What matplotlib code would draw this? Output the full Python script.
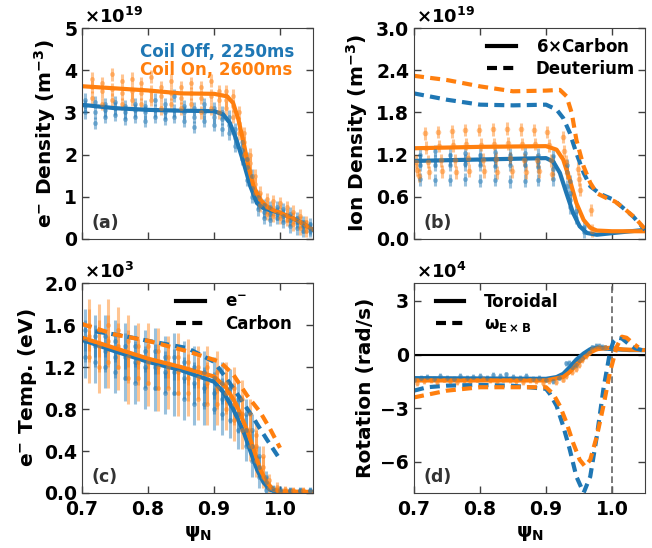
import matplotlib
matplotlib.use('Agg')
import matplotlib.pyplot as plt
from matplotlib.lines import Line2D

plt.rcParams['font.family'] = ['DejaVu Sans']
plt.rcParams['font.weight'] = 'bold'
plt.rcParams['axes.labelweight'] = 'bold'
plt.rcParams['mathtext.default'] = 'bf'
plt.rcParams['axes.edgecolor'] = '0.25'
plt.rcParams['xtick.color'] = '0.25'
plt.rcParams['ytick.color'] = '0.25'
plt.rcParams['xtick.labelcolor'] = 'black'
plt.rcParams['ytick.labelcolor'] = 'black'

BLUE = '#1f77b4'
ORANGE = '#ff7f0e'

# ---------------- (a) electron density, units of 1e19 m^-3 ----------------
a_off_x = [0.705, 0.72, 0.735, 0.75, 0.765, 0.78, 0.795, 0.81, 0.825, 0.84, 0.855, 0.87,
           0.885, 0.9, 0.912, 0.922, 0.932, 0.942, 0.95, 0.958, 0.966, 0.975, 0.985,
           0.995, 1.005, 1.015, 1.025, 1.035, 1.045]
a_off_y = [[3.0, 3.15, 3.3], [2.75, 3.0, 3.25], [2.9, 3.05, 3.2], [2.95, 3.1, 3.25],
           [2.85, 3.0, 3.15], [2.9, 3.05, 3.2], [2.8, 3.0, 3.15], [2.9, 3.05, 3.3],
           [2.85, 3.0, 3.2], [2.9, 3.05, 3.4], [2.8, 3.0, 3.15], [2.65, 2.9, 3.1],
           [2.8, 3.0, 3.2], [2.7, 2.9, 3.1], [2.6, 2.85, 3.0], [2.5, 2.7, 2.9],
           [2.2, 2.4, 2.6], [1.9, 2.1, 2.3], [1.4, 1.7, 1.9], [1.0, 1.2, 1.5],
           [0.7, 0.85, 1.0], [0.5, 0.65, 0.8], [0.45, 0.6, 0.75], [0.5, 0.6, 0.75],
           [0.4, 0.55, 0.7], [0.3, 0.45, 0.6], [0.25, 0.4, 0.5], [0.2, 0.3, 0.4],
           [0.2, 0.25, 0.35]]
a_on_x = [0.715, 0.73, 0.745, 0.76, 0.775, 0.79, 0.805, 0.82, 0.835, 0.85, 0.865, 0.88,
          0.895, 0.908, 0.918, 0.928, 0.938, 0.946, 0.954, 0.962, 0.97, 0.98, 0.99,
          1.0, 1.01, 1.02, 1.03, 1.04]
a_on_y = [[3.35, 3.6, 3.8], [3.2, 3.5, 3.7], [3.3, 3.55, 3.9], [3.2, 3.45, 3.75],
          [3.3, 3.5, 3.8], [3.2, 3.45, 3.7], [3.3, 3.5, 3.85], [3.1, 3.4, 3.6],
          [3.2, 3.45, 3.75], [3.1, 3.35, 3.6], [3.2, 3.45, 3.7], [3.0, 3.35, 3.6],
          [3.1, 3.4, 3.75], [3.0, 3.3, 3.5], [3.1, 3.3, 3.5], [2.9, 3.15, 3.4],
          [2.5, 2.75, 3.0], [2.0, 2.3, 2.5], [1.6, 1.8, 2.0], [1.1, 1.3, 1.5],
          [0.8, 0.95, 1.1], [0.6, 0.75, 0.95], [0.55, 0.7, 0.9], [0.5, 0.65, 0.85],
          [0.45, 0.55, 0.75], [0.35, 0.5, 0.65], [0.25, 0.4, 0.55], [0.2, 0.3, 0.4]]
a_err = 0.15

a_fit_off_x = [0.7, 0.75, 0.8, 0.85, 0.9, 0.914, 0.924, 0.934, 0.945, 0.955, 0.965,
               0.975, 0.985, 1.0, 1.015, 1.031, 1.05]
a_fit_off_y = [3.18, 3.1, 3.06, 3.04, 3.03, 2.95, 2.75, 2.35, 1.8, 1.25, 0.85, 0.73,
               0.68, 0.62, 0.52, 0.4, 0.22]
a_fit_on_x = [0.7, 0.75, 0.8, 0.85, 0.9, 0.92, 0.929, 0.937, 0.945, 0.952, 0.96, 0.97,
              0.98, 0.99, 1.0, 1.015, 1.031, 1.05]
a_fit_on_y = [3.62, 3.57, 3.52, 3.45, 3.44, 3.38, 3.22, 2.83, 2.27, 1.72, 1.25, 0.93,
              0.77, 0.68, 0.62, 0.52, 0.4, 0.22]

# ---------------- (b) ion density, units of 1e19 m^-3 ----------------
b_off_x = [0.709, 0.732, 0.755, 0.777, 0.8, 0.823, 0.845, 0.868, 0.888, 0.911, 0.932,
           0.936, 0.945, 0.957]
b_off_y = [[0.85, 1.05, 1.12, 1.2], [0.84, 1.05, 1.12, 1.25], [0.84, 1.05, 1.13, 1.2],
           [0.85, 1.06, 1.12, 1.22], [0.83, 1.05, 1.13, 1.2], [0.84, 1.04, 1.12, 1.24],
           [0.82, 1.05, 1.14, 1.2], [0.83, 1.05, 1.12, 1.22], [0.84, 1.03, 1.1, 1.2],
           [0.85, 1.0, 1.1, 1.18], [0.75, 0.95, 1.05], [0.45, 0.55, 0.65, 0.82],
           [0.3, 0.4], [0.1, 0.17]]
b_on_x = [[0.703, 0.705, 0.707], [0.716, 0.718, 0.721, 0.723], [0.736, 0.738, 0.741, 0.743],
          [0.757, 0.759, 0.762, 0.764], [0.777, 0.779, 0.782, 0.784], [0.799, 0.801, 0.804, 0.806],
          [0.819, 0.821, 0.824, 0.826], [0.841, 0.843, 0.846, 0.848], [0.862, 0.864, 0.867, 0.869],
          [0.882, 0.884, 0.887, 0.889], [0.902, 0.904, 0.907, 0.909], [0.925, 0.927, 0.930, 0.932],
          [0.948, 0.950, 0.952], [0.968, 0.970]]
b_on_y = [[1.1, 0.98, 0.9], [1.5, 1.3, 1.1, 0.95], [1.52, 1.32, 1.12, 0.96],
          [1.53, 1.33, 1.12, 0.95], [1.55, 1.35, 1.15, 0.97], [1.55, 1.34, 1.13, 0.96],
          [1.56, 1.35, 1.14, 0.95], [1.57, 1.36, 1.15, 0.96], [1.56, 1.35, 1.13, 0.95],
          [1.55, 1.35, 1.12, 0.96], [1.52, 1.33, 1.12, 0.93], [1.45, 1.25, 1.1, 0.94],
          [1.0, 0.85, 0.7], [0.41, 0.12]]
b_err = 0.09

b_c_off_x = [0.7, 0.8, 0.9, 0.911, 0.921, 0.931, 0.941, 0.951, 0.962, 0.977, 1.002, 1.05]
b_c_off_y = [1.11, 1.13, 1.15, 1.1, 0.94, 0.65, 0.37, 0.18, 0.085, 0.06, 0.085, 0.13]
b_c_on_x = [0.7, 0.8, 0.9, 0.916, 0.926, 0.936, 0.946, 0.957, 0.967, 0.977, 1.0, 1.05]
b_c_on_y = [1.29, 1.31, 1.32, 1.27, 1.13, 0.84, 0.51, 0.27, 0.16, 0.12, 0.11, 0.11]
b_d_off_x = [0.7, 0.75, 0.8, 0.85, 0.9, 0.916, 0.926, 0.936, 0.946, 0.957, 0.967, 0.982,
             1.002, 1.017, 1.032, 1.05]
b_d_off_y = [2.07, 1.98, 1.91, 1.9, 1.91, 1.84, 1.72, 1.51, 1.22, 0.94, 0.75, 0.64,
             0.56, 0.44, 0.32, 0.13]
b_d_on_x = [0.7, 0.75, 0.8, 0.85, 0.9, 0.921, 0.931, 0.939, 0.946, 0.957, 0.967, 0.977,
            0.992, 1.005, 1.02, 1.035, 1.05]
b_d_on_y = [2.32, 2.26, 2.17, 2.1, 2.11, 2.12, 2.03, 1.79, 1.41, 1.03, 0.8, 0.65,
            0.58, 0.53, 0.42, 0.3, 0.14]

# ---------------- (c) temperature, units of 1e3 eV ----------------
c_off_x = [0.705, 0.72, 0.735, 0.75, 0.765, 0.78, 0.795, 0.81, 0.825, 0.84, 0.855, 0.87,
           0.885, 0.9, 0.912, 0.924, 0.936, 0.948, 0.958, 0.968, 0.978, 0.99, 1.0,
           1.015, 1.03, 1.045]
c_off_y = [[1.3, 1.45, 1.55], [1.25, 1.4, 1.5], [1.2, 1.35, 1.5], [1.15, 1.3, 1.45],
           [1.1, 1.3, 1.4], [1.05, 1.25, 1.4], [1.0, 1.2, 1.35], [1.0, 1.2, 1.35],
           [0.95, 1.15, 1.3], [0.95, 1.15, 1.3], [0.9, 1.1, 1.25], [0.85, 1.05, 1.2],
           [0.85, 1.0, 1.15], [0.8, 0.95, 1.1], [0.75, 0.9, 1.05], [0.7, 0.85, 1.0],
           [0.6, 0.75, 0.9], [0.45, 0.6, 0.75], [0.3, 0.45, 0.6], [0.15, 0.25, 0.35],
           [0.03, 0.1, 0.15], [0.02, 0.05], [0.02, 0.04], [0.02, 0.03], [0.02, 0.03],
           [0.02, 0.03]]
c_off_err = [0.2, 0.2, 0.2, 0.2, 0.22, 0.2, 0.2, 0.22, 0.2, 0.22, 0.2, 0.2, 0.2, 0.2,
             0.2, 0.18, 0.18, 0.15, 0.15, 0.1, 0.06, 0.03, 0.03, 0.03, 0.03, 0.03]
c_on_x = [0.71, 0.725, 0.74, 0.755, 0.77, 0.785, 0.8, 0.815, 0.83, 0.845, 0.86, 0.875,
          0.89, 0.905, 0.918, 0.93, 0.942, 0.954, 0.964, 0.974, 0.984, 0.995, 1.008,
          1.02, 1.035]
c_on_y = [[1.3, 1.5, 1.6], [1.2, 1.4, 1.55], [1.25, 1.45, 1.6], [1.2, 1.4, 1.55],
          [1.1, 1.3, 1.45], [1.1, 1.25, 1.4], [1.05, 1.25, 1.4], [1.0, 1.2, 1.35],
          [1.0, 1.2, 1.3], [0.95, 1.15, 1.3], [0.95, 1.1, 1.25], [0.9, 1.1, 1.2],
          [0.85, 1.05, 1.2], [0.85, 1.0, 1.15], [0.8, 0.95, 1.05], [0.7, 0.85, 1.0],
          [0.6, 0.75, 0.9], [0.45, 0.6, 0.75], [0.3, 0.45, 0.55], [0.15, 0.25, 0.35],
          [0.05, 0.12], [0.03, 0.06], [0.02, 0.04], [0.02, 0.03], [0.02, 0.03]]
c_on_err = [0.25, 0.25, 0.25, 0.22, 0.25, 0.22, 0.22, 0.22, 0.2, 0.22, 0.22, 0.2, 0.2,
            0.2, 0.2, 0.2, 0.18, 0.15, 0.15, 0.1, 0.06, 0.04, 0.03, 0.03, 0.03]

c_e_off_x = [0.7, 0.75, 0.8, 0.85, 0.9, 0.914, 0.929, 0.945, 0.955, 0.965, 0.975, 0.985,
             1.0, 1.05]
c_e_off_y = [1.46, 1.35, 1.25, 1.17, 1.06, 0.96, 0.8, 0.58, 0.4, 0.225, 0.1, 0.03, 0.01, 0.005]
c_e_on_x = [0.7, 0.75, 0.8, 0.85, 0.9, 0.919, 0.934, 0.95, 0.96, 0.97, 0.98, 0.99,
            1.0, 1.05]
c_e_on_y = [1.48, 1.38, 1.28, 1.2, 1.11, 1.0, 0.84, 0.6, 0.42, 0.225, 0.1, 0.03, 0.015, 0.01]
c_c_off_x = [0.72, 0.76, 0.8, 0.86, 0.9, 0.919, 0.94, 0.96, 0.98, 1.0]
c_c_off_y = [1.54, 1.5, 1.45, 1.38, 1.25, 1.09, 0.9, 0.71, 0.51, 0.32]
c_c_on_x = [0.7, 0.75, 0.8, 0.86, 0.909, 0.929, 0.95, 0.97, 0.985, 1.0]
c_c_on_y = [1.61, 1.51, 1.45, 1.35, 1.25, 1.13, 0.93, 0.77, 0.61, 0.43]

# ---------------- (d) rotation, units of 1e4 rad/s ----------------
d_off_x = [0.70, 0.71, 0.72, 0.73, 0.74, 0.75, 0.76, 0.77, 0.78, 0.79, 0.80, 0.81, 0.82,
           0.83, 0.84, 0.85, 0.86, 0.87, 0.88, 0.89, 0.90, 0.91, 0.92, 0.93, 0.935, 0.94,
           0.945, 0.95, 0.955, 0.96, 0.965, 0.97, 0.975, 0.98, 0.985, 0.99]
d_off_y = [-1.4, -1.3, -1.25, -1.35, -1.2, -1.3, -1.35, -1.2, -1.3, -1.25, -1.2, -1.3,
           -1.15, -1.2, -1.1, -1.25, -1.3, -1.2, -1.35, -1.3, -1.4, -1.5, -1.3, -0.5,
           -0.45, -0.7, -0.6, -0.3, -0.2, 0.1, 0.2, 0.4, 0.5, 0.5, 0.45, 0.4]
d_on_x = [0.705, 0.715, 0.725, 0.735, 0.745, 0.755, 0.765, 0.775, 0.785, 0.795, 0.805,
          0.815, 0.825, 0.835, 0.845, 0.855, 0.865, 0.875, 0.885, 0.895, 0.905, 0.915,
          0.925, 0.93, 0.94, 0.945, 0.95, 0.955, 0.96, 0.965, 0.97, 0.975, 0.98, 0.99]
d_on_y = [-1.6, -1.5, -1.45, -1.55, -1.4, -1.5, -1.55, -1.45, -1.5, -1.4, -1.35, -1.45,
          -1.5, -1.4, -1.45, -1.5, -1.55, -1.45, -1.5, -1.6, -1.5, -1.55, -1.4, -1.2,
          -1.0, -0.8, -0.6, -0.3, -0.1, 0.1, 0.3, 0.35, 0.4, 0.4]
d_err = 0.15

d_t_off_x = [0.7, 0.8, 0.9, 0.916, 0.926, 0.936, 0.946, 0.957, 0.967, 0.977, 1.002, 1.027, 1.05]
d_t_off_y = [-1.32, -1.34, -1.36, -1.26, -1.08, -0.7, -0.28, 0.06, 0.3, 0.38, 0.3, 0.25, 0.25]
d_t_on_x = [0.7, 0.8, 0.9, 0.926, 0.936, 0.946, 0.957, 0.967, 0.977, 0.997, 1.017, 1.05]
d_t_on_y = [-1.45, -1.45, -1.45, -1.26, -0.98, -0.57, -0.19, 0.11, 0.3, 0.38, 0.28, 0.25]
d_e_off_x = [0.7, 0.72, 0.75, 0.8, 0.85, 0.9, 0.906, 0.916, 0.926, 0.936, 0.946, 0.957,
             0.967, 0.977, 0.987, 0.997, 1.002, 1.008, 1.015, 1.025, 1.035, 1.05]
d_e_off_y = [-2.02, -1.83, -1.74, -1.7, -1.75, -1.92, -2.21, -2.87, -4.0, -5.32, -6.83,
             -7.74, -6.83, -4.57, -1.92, 0.15, 0.72, 0.95, 0.9, 0.6, 0.35, 0.2]
d_e_on_x = [0.7, 0.75, 0.8, 0.85, 0.9, 0.911, 0.921, 0.931, 0.941, 0.951, 0.959, 0.967,
            0.977, 0.987, 0.997, 1.007, 1.015, 1.022, 1.032, 1.04]
d_e_on_y = [-2.4, -2.02, -1.83, -1.83, -1.83, -2.21, -2.87, -3.81, -4.94, -5.89, -6.26,
            -5.89, -4.57, -2.87, -0.98, 0.43, 1.0, 0.94, 0.62, 0.4]

DASH = (2.4, 1.5)


def draw_clusters(ax, xs, ys, err, color, ms=3.5):
    if not isinstance(err, list):
        err = [err] * len(xs)
    for x, group, e in zip(xs, ys, err):
        if not isinstance(x, list):
            x = [x] * len(group)
        ax.errorbar(x, group, yerr=e, fmt='o', ms=ms, color=color,
                    alpha=0.45, elinewidth=2.2, capsize=0, mew=0)


def style_axes(ax, ylim, yticks, ylabel, letter, mult, show_x):
    ax.set_xlim(0.7, 1.05)
    ax.set_ylim(*ylim)
    ax.set_yticks(yticks)
    ax.set_xticks([0.7, 0.8, 0.9, 1.0])
    ax.tick_params(direction='in', top=True, right=True, labelsize=13.5, length=5, width=1)
    ax.tick_params(axis='x', pad=5)
    ax.set_ylabel(ylabel, fontsize=14.5, labelpad=4)
    if show_x:
        ax.set_xlabel(r'$\psi_N$', fontsize=14)
    else:
        ax.set_xticklabels([])
    ax.text(0.04, 0.05, letter, transform=ax.transAxes, fontsize=12.5, color='0.2')
    ax.text(0.01, 1.005, mult, transform=ax.transAxes, fontsize=13, ha='left', va='bottom')


def line_legend(ax, labels, **kw):
    handles = [Line2D([], [], color='k', lw=3), Line2D([], [], color='k', lw=3, dashes=DASH)]
    ax.legend(handles, labels, frameon=False, fontsize=12, handlelength=1.7,
              handletextpad=1.2, borderaxespad=0.2, labelspacing=0.25, **kw)


fig = plt.figure(figsize=(6.52, 5.48), dpi=100)
ax_a = fig.add_axes([0.1258, 0.5639, 0.3543, 0.385])
ax_b = fig.add_axes([0.635, 0.5639, 0.3543, 0.385])
ax_c = fig.add_axes([0.1258, 0.1004, 0.3543, 0.383])
ax_d = fig.add_axes([0.635, 0.1004, 0.3543, 0.383])

# (a)
draw_clusters(ax_a, a_off_x, a_off_y, a_err, BLUE)
draw_clusters(ax_a, a_on_x, a_on_y, a_err, ORANGE)
ax_a.plot(a_fit_off_x, a_fit_off_y, color=BLUE, lw=3)
ax_a.plot(a_fit_on_x, a_fit_on_y, color=ORANGE, lw=3)
style_axes(ax_a, (0, 5), [0, 1, 2, 3, 4, 5], r'e$^{-}$ Density (m$^{-3}$)', '(a)',
           r'$\times$10$^{19}$', False)
ax_a.text(0.251, 0.886, 'Coil Off, 2250ms', transform=ax_a.transAxes, color=BLUE,
          fontsize=12, va='center')
ax_a.text(0.251, 0.80, 'Coil On, 2600ms', transform=ax_a.transAxes, color=ORANGE,
          fontsize=12, va='center')

# (b)
draw_clusters(ax_b, b_off_x, b_off_y, b_err, BLUE)
draw_clusters(ax_b, b_on_x, b_on_y, b_err, ORANGE, ms=4)
ax_b.plot(b_c_off_x, b_c_off_y, color=BLUE, lw=3)
ax_b.plot(b_c_on_x, b_c_on_y, color=ORANGE, lw=3)
ax_b.plot(b_d_off_x, b_d_off_y, color=BLUE, lw=3, dashes=DASH)
ax_b.plot(b_d_on_x, b_d_on_y, color=ORANGE, lw=3, dashes=DASH)
style_axes(ax_b, (0, 3.0), [0, 0.6, 1.2, 1.8, 2.4, 3.0], r'Ion Density (m$^{-3}$)', '(b)',
           r'$\times$10$^{19}$', False)
ax_b.set_yticklabels(['0.0', '0.6', '1.2', '1.8', '2.4', '3.0'])
line_legend(ax_b, [r'6$\times$Carbon', 'Deuterium'], loc='upper right')

# (c)
draw_clusters(ax_c, c_off_x, c_off_y, c_off_err, BLUE)
draw_clusters(ax_c, c_on_x, c_on_y, c_on_err, ORANGE)
ax_c.plot(c_e_off_x, c_e_off_y, color=BLUE, lw=3)
ax_c.plot(c_e_on_x, c_e_on_y, color=ORANGE, lw=3)
ax_c.plot(c_c_off_x, c_c_off_y, color=BLUE, lw=3, dashes=DASH)
ax_c.plot(c_c_on_x, c_c_on_y, color=ORANGE, lw=3, dashes=DASH)
style_axes(ax_c, (0, 2.0), [0, 0.4, 0.8, 1.2, 1.6, 2.0], r'e$^{-}$ Temp. (eV)', '(c)',
           r'$\times$10$^{3}$', True)
ax_c.set_yticklabels(['0.0', '0.4', '0.8', '1.2', '1.6', '2.0'])
ax_c.set_xticklabels(['0.7', '0.8', '0.9', '1.0'])
line_legend(ax_c, [r'e$^{-}$', 'Carbon'], loc='upper right', bbox_to_anchor=(0.95, 1.0))

# (d)
ax_d.axhline(0, color='k', lw=1.5)
ax_d.axvline(1.0, color='0.4', lw=1.2, dashes=(4, 2))
ax_d.errorbar(d_off_x, d_off_y, yerr=d_err, fmt='o', ms=3.5, color=BLUE, alpha=0.45,
              elinewidth=2, capsize=0, mew=0)
ax_d.errorbar(d_on_x, d_on_y, yerr=d_err, fmt='o', ms=3.5, color=ORANGE, alpha=0.45,
              elinewidth=2, capsize=0, mew=0)
ax_d.plot(d_t_off_x, d_t_off_y, color=BLUE, lw=3)
ax_d.plot(d_t_on_x, d_t_on_y, color=ORANGE, lw=3)
ax_d.plot(d_e_off_x, d_e_off_y, color=BLUE, lw=3, dashes=DASH)
ax_d.plot(d_e_on_x, d_e_on_y, color=ORANGE, lw=3, dashes=DASH)
style_axes(ax_d, (-7.75, 4), [-6, -3, 0, 3], 'Rotation (rad/s)', '(d)',
           r'$\times$10$^{4}$', True)
ax_d.set_yticklabels(['\u22126', '\u22123', '0', '3'])
ax_d.set_xticklabels(['0.7', '0.8', '0.9', '1.0'])
line_legend(ax_d, ['Toroidal', r'$\omega_{\mathrm{E\times B}}$'], loc='upper left',
            bbox_to_anchor=(0.05, 1.0))

fig.savefig('out.png', dpi=100)
